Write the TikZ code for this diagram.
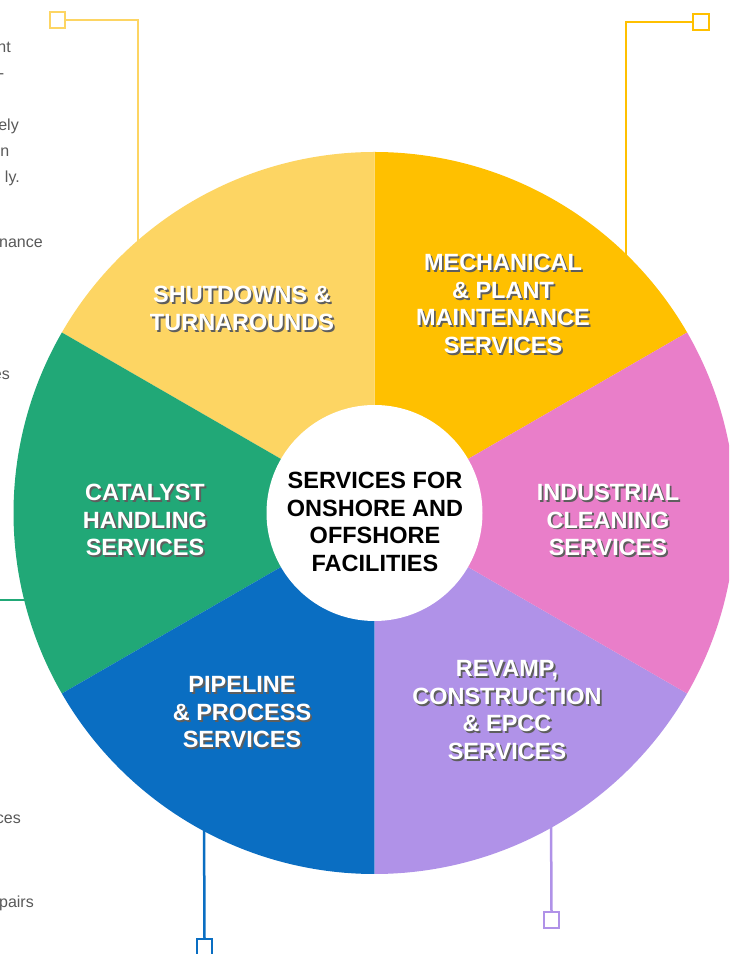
\documentclass[tikz,border=0pt]{standalone}
\usepackage{fontspec}
\setmainfont{Liberation Sans}
\usetikzlibrary{calc}
\definecolor{cYel}{HTML}{FDD563}
\definecolor{cOra}{HTML}{FFC000}
\definecolor{cPink}{HTML}{E97EC9}
\definecolor{cLav}{HTML}{B092E8}
\definecolor{cBlue}{HTML}{0A6EC2}
\definecolor{cGreen}{HTML}{21A877}
\definecolor{cSide}{HTML}{595959}
\definecolor{cShadow}{HTML}{5E5E5E}
\tikzset{
  seclabel/.style={text=white, font=\fontsize{23.5}{27.5}\selectfont\bfseries, align=center, inner sep=0pt},
  secshadow/.style={text=cShadow, font=\fontsize{23.5}{27.5}\selectfont\bfseries, align=center, inner sep=0pt},
  hublabel/.style={text=black, font=\fontsize{23.5}{27.5}\selectfont\bfseries, align=center, inner sep=0pt},
  sidetext/.style={text=cSide, font=\fontsize{16}{20}\selectfont, anchor=base east, inner sep=0pt},
  sqbox/.style={draw=#1, fill=white, line width=2.4pt, minimum size=15.5pt, inner sep=0pt},
  conn/.style={draw=#1, line width=2.5pt}
}
\begin{document}
\begin{tikzpicture}[x=1pt,y=1pt]
\useasboundingbox (0,0) rectangle (729,954);
\clip (0,0) rectangle (729,954);
\fill[white] (0,0) rectangle (729,954);
\coordinate (c) at (374.5,441);
% connectors
\coordinate (aCorner) at (138,934);
\coordinate (aEnd) at (138,690);
\coordinate (bCorner) at (626,932);
\coordinate (bEnd) at (626,680);
\coordinate (gFree) at (0,354);
\coordinate (gEnd) at (40,354);
\coordinate (dEnd) at (204,140);
\coordinate (eEnd) at (551,140);
\node[sqbox=cYel] (sqA) at (57.5,934) {};
\node[sqbox=cOra] (sqB) at (701,932) {};
\node[sqbox=cBlue] (sqD) at (204.5,7) {};
\node[sqbox=cLav] (sqE) at (551.5,34) {};
\draw[conn=cYel] (sqA.east) -- (aCorner) -- (aEnd);
\draw[conn=cOra] (sqB.west) -- (bCorner) -- (bEnd);
\draw[conn=cGreen] (gFree) -- (gEnd);
\draw[conn=cBlue] (dEnd) -- (sqD.north);
\draw[conn=cLav] (eEnd) -- (sqE.north);
% sectors
\fill[cOra] (c) -- +(30:361) arc[start angle=30,end angle=90,radius=361] -- cycle;
\fill[cYel] (c) -- +(90:361) arc[start angle=90,end angle=150,radius=361] -- cycle;
\fill[cGreen] (c) -- +(150:361) arc[start angle=150,end angle=210,radius=361] -- cycle;
\fill[cBlue] (c) -- +(210:361) arc[start angle=210,end angle=270,radius=361] -- cycle;
\fill[cLav] (c) -- +(270:361) arc[start angle=270,end angle=330,radius=361] -- cycle;
\fill[cPink] (c) -- +(-30:361) arc[start angle=-30,end angle=30,radius=361] -- cycle;
\node[circle, fill=white, minimum size=216pt, inner sep=0pt] (hub) at (c) {};
% sector labels
\node[secshadow] (s1) at (243.8,643.7) {SHUTDOWNS \&\\TURNAROUNDS};
\node[seclabel] (t1) at (242,645.5) {SHUTDOWNS \&\\TURNAROUNDS};
\node[secshadow] (s2) at (504.8,648.2) {MECHANICAL\\\& PLANT\\MAINTENANCE\\SERVICES};
\node[seclabel] (t2) at (503,650) {MECHANICAL\\\& PLANT\\MAINTENANCE\\SERVICES};
\node[secshadow] (s3) at (146.8,432.2) {CATALYST\\HANDLING\\SERVICES};
\node[seclabel] (t3) at (145,434) {CATALYST\\HANDLING\\SERVICES};
\node[secshadow] (s4) at (609.8,432.2) {INDUSTRIAL\\CLEANING\\SERVICES};
\node[seclabel] (t4) at (608,434) {INDUSTRIAL\\CLEANING\\SERVICES};
\node[secshadow] (s5) at (243.8,239.7) {PIPELINE\\\& PROCESS\\SERVICES};
\node[seclabel] (t5) at (242,241.5) {PIPELINE\\\& PROCESS\\SERVICES};
\node[secshadow] (s6) at (508.8,242.2) {REVAMP,\\CONSTRUCTION\\\& EPCC\\SERVICES};
\node[seclabel] (t6) at (507,244) {REVAMP,\\CONSTRUCTION\\\& EPCC\\SERVICES};
\node[hublabel] (hubtext) at (375,432) {SERVICES FOR\\ONSHORE AND\\OFFSHORE\\FACILITIES};
% cut-off side texts
\node[sidetext] (l1) at (11,901) {nt};
\node[sidetext] (l2) at (4.5,875) {-};
\node[sidetext] (l3) at (19,823) {ely};
\node[sidetext] (l4) at (9.5,797) {n};
\node[sidetext] (l5) at (20,771) {ly.};
\node[sidetext] (l6) at (43,706) {nance};
\node[sidetext] (l7) at (10,574) {es};
\node[sidetext] (l8) at (21,130) {ces};
\node[sidetext] (l9) at (34,46) {pairs};
\end{tikzpicture}
\end{document}
